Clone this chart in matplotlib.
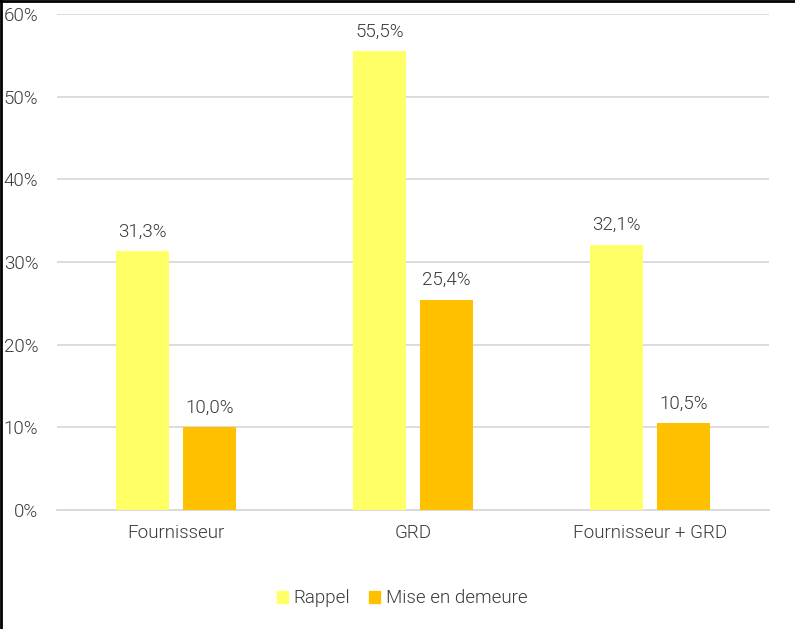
import numpy as np
import matplotlib.pyplot as plt
from matplotlib.ticker import FuncFormatter

plt.rcParams['font.family'] = ['Roboto', 'DejaVu Sans']
plt.rcParams['font.weight'] = 300

categories = ["Fournisseur", "GRD", "Fournisseur + GRD"]
rappel = [31.3, 55.5, 32.1]
mise_en_demeure = [10.0, 25.4, 10.5]
series_names = ["Rappel", "Mise en demeure"]
yticks = [0, 10, 20, 30, 40, 50, 60]

text_color = "#3a3a3a"
grid_color = "#d9d9d9"
colors = ["#ffff66", "#ffc000"]
fs = 13.5

fig = plt.figure(figsize=(7.95, 6.29), dpi=100, facecolor="white")
ax = fig.add_axes([0.0717, 0.189, 0.8956, 0.789])

x = np.arange(len(categories))
width = 0.223
offset = 0.141

for vals, off, col in zip([rappel, mise_en_demeure], [-offset, offset], colors):
    bars = ax.bar(x + off, vals, width, color=col, zorder=3)
    for b, v in zip(bars, vals):
        ax.text(b.get_x() + b.get_width() / 2, v + 1.3, f"{v:.1f}%".replace(".", ","),
                ha="center", va="bottom", fontsize=fs, color=text_color, fontweight=300)

ax.set_xlim(-0.5, 2.5)
ax.set_ylim(0, 60)
ax.set_yticks(yticks)
ax.yaxis.set_major_formatter(FuncFormatter(lambda v, p: f"{int(v)}%"))
ax.set_xticks(x)
ax.set_xticklabels(categories)
ax.grid(axis="y", color=grid_color, linewidth=1.3, zorder=0)
ax.tick_params(axis="both", length=0, labelsize=fs, labelcolor=text_color)
ax.tick_params(axis="y", pad=13.5)
ax.tick_params(axis="x", pad=10)
for lab in ax.get_xticklabels() + ax.get_yticklabels():
    lab.set_fontweight(300)
for s in ["top", "right", "left"]:
    ax.spines[s].set_visible(False)
ax.spines["bottom"].set_color(grid_color)
ax.spines["bottom"].set_linewidth(1.3)

handles = [plt.Rectangle((0, 0), 1, 1, color=c) for c in colors]
leg = fig.legend(handles, series_names, loc="center", bbox_to_anchor=(0.506, 0.049),
                 ncol=2, frameon=False, fontsize=fs, handlelength=0.6,
                 handleheight=0.6, handletextpad=0.3, columnspacing=1.0)
for t in leg.get_texts():
    t.set_color(text_color)
    t.set_fontweight(300)

# cadre noir à gauche et en haut
fig.add_artist(plt.Line2D([0.001, 0.001], [0, 1], color="black", linewidth=2,
                          transform=fig.transFigure))
fig.add_artist(plt.Line2D([0, 1], [0.999, 0.999], color="black", linewidth=2,
                          transform=fig.transFigure))

fig.savefig("out.png", dpi=100, facecolor="white")
plt.close(fig)
